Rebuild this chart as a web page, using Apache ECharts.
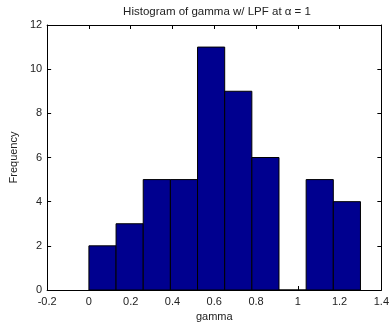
<!DOCTYPE html>
<html>
<head>
<meta charset="utf-8">
<script src="https://cdn.jsdelivr.net/npm/echarts@6/dist/echarts.min.js"></script>
<style>
  html, body { margin: 0; padding: 0; background: #fff; }
  #chart { width: 392px; height: 328px; }
</style>
</head>
<body>
<div id="chart"></div>
<script>
// Histogram bin edges (10 equal bins) and the count in each bin
const binEdges = [0, 0.13, 0.26, 0.39, 0.52, 0.65, 0.78, 0.91, 1.04, 1.17, 1.30];
const binCounts = [2, 3, 5, 5, 11, 9, 6, 0, 5, 4];

// Axis tick settings
const xTickMin = -0.2, xTickMax = 1.4, xTickStep = 0.2;
const yTickMin = 0, yTickMax = 12, yTickStep = 2;

const barData = binCounts.map((c, i) => [binEdges[i], binEdges[i + 1], c]);

const font = 'Liberation Sans, Arial, Helvetica, sans-serif';
const textColor = '#222';

const chart = echarts.init(document.getElementById('chart'), null, { renderer: 'canvas' });

const axisLine = { show: true, onZero: false, lineStyle: { color: '#000', width: 1 } };
const tickIn = { show: true, inside: true, length: 4, lineStyle: { color: '#000', width: 1 } };

chart.setOption({
  animation: false,
  backgroundColor: '#fff',
  title: {
    text: 'Histogram of gamma w/ LPF at \u03b1 = 1',
    left: 212, top: 1, textAlign: 'center',
    textStyle: { fontFamily: font, fontSize: 11.5, fontWeight: 'normal', color: textColor }
  },
  grid: { left: 41, right: 9, top: 25, bottom: 38, show: false },
  xAxis: [{
    type: 'value', position: 'bottom',
    min: xTickMin, max: xTickMax, interval: xTickStep,
    name: 'gamma', nameLocation: 'middle', nameGap: 21,
    nameTextStyle: { fontFamily: font, fontSize: 11, color: textColor },
    axisLine: axisLine, axisTick: tickIn,
    axisLabel: {
      fontFamily: font, fontSize: 11, color: textColor, margin: 6,
      formatter: v => String(Math.round(v * 10) / 10)
    },
    splitLine: { show: false }
  }, {
    type: 'value', position: 'top',
    min: xTickMin, max: xTickMax, interval: xTickStep,
    axisLine: axisLine, axisTick: tickIn,
    axisLabel: { show: false }, splitLine: { show: false }
  }],
  yAxis: [{
    type: 'value', position: 'left',
    min: yTickMin, max: yTickMax, interval: yTickStep,
    name: 'Frequency', nameLocation: 'middle', nameGap: 26, nameRotate: 90,
    nameTextStyle: { fontFamily: font, fontSize: 11, color: textColor },
    axisLine: axisLine, axisTick: tickIn,
    axisLabel: { fontFamily: font, fontSize: 11, color: textColor, margin: 5 },
    splitLine: { show: false }
  }, {
    type: 'value', position: 'right',
    min: yTickMin, max: yTickMax, interval: yTickStep,
    axisLine: axisLine, axisTick: tickIn,
    axisLabel: { show: false }, splitLine: { show: false }
  }],
  series: [{
    type: 'custom',
    xAxisIndex: 0, yAxisIndex: 0,
    data: barData,
    renderItem: function (params, api) {
      const p0 = api.coord([api.value(0), api.value(2)]);
      const p1 = api.coord([api.value(1), 0]);
      return {
        type: 'rect',
        shape: { x: p0[0], y: p0[1], width: p1[0] - p0[0], height: p1[1] - p0[1] },
        style: { fill: '#00008f', stroke: '#000', lineWidth: 1 }
      };
    },
    z: 1
  }]
});
</script>
</body>
</html>
